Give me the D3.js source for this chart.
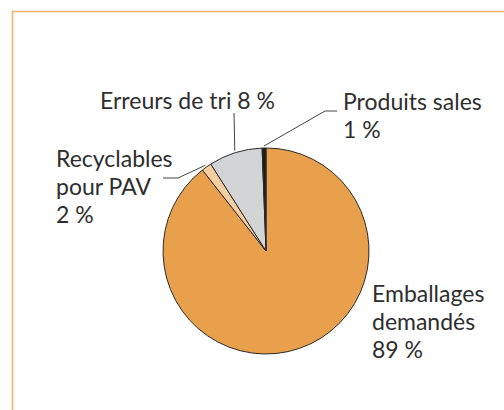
<!DOCTYPE html>
<html>
<head>
<meta charset="utf-8">
<script src="https://cdn.jsdelivr.net/npm/d3@7"></script>
<style>
  body { margin: 0; background: #fff; }
  svg text { font-family: Lato, "Open Sans", sans-serif; font-size: 23px; fill: #2e2e2e; }
</style>
</head>
<body>
<div id="chart"></div>
<script>
'use strict';

// slice order, clockwise from 12 o'clock
var categories = [ 'Emballages demandés', 'Recyclables pour PAV', 'Erreurs de tri', 'Produits sales' ];
var values = [ 89.4, 1.6, 8.4, 0.6 ];
var valueLabels = [ '89 %', '2 %', '8 %', '1 %' ];
var colors = [ '#e8a04d', '#f5cfa0', '#d3d4d6', '#1c1c1c' ];

var width = 504,
    height = 410,
    cx = 266,
    cy = 251,
    radius = 103;

var svg = d3.select( '#chart' )
  .append( 'svg' )
    .attr( 'width', width )
    .attr( 'height', height );

// orange frame (open to the right and bottom)
svg.append( 'path' )
  .attr( 'd', 'M12.5,' + height + 'V11.5H' + width )
  .attr( 'fill', 'none' )
  .attr( 'stroke', '#f5b36b' )
  .attr( 'stroke-width', 1.6 );

var pie = d3.pie()
  .sort( null )
  .value( function( d ) { return d; } );

var arcs = pie( values );

var arc = d3.arc()
  .innerRadius( 0 )
  .outerRadius( radius );

var g = svg.append( 'g' )
  .attr( 'transform', 'translate(' + cx + ',' + cy + ')' );

g.selectAll( 'path.slice' )
  .data( arcs )
  .enter()
  .append( 'path' )
    .attr( 'class', 'slice' )
    .attr( 'd', arc )
    .attr( 'fill', function( d, i ) { return colors[i]; } )
    .attr( 'stroke', '#2a2a2a' )
    .attr( 'stroke-width', 1 )
    .attr( 'stroke-linejoin', 'round' );

// point on the rim, middle of slice
function rimPoint( d, r ) {
  var a = ( d.startAngle + d.endAngle ) / 2;
  return [ cx + r * Math.sin( a ), cy - r * Math.cos( a ) ];
}

// labels: lines of text, anchor x, first baseline, leader elbow points
var labels = [
  { idx: 0, lines: [ 'Emballages', 'demandés', valueLabels[0] ], x: 372, y: 302, leader: null },
  { idx: 1, lines: [ 'Recyclables', 'pour PAV', valueLabels[1] ], x: 56, y: 167,
    leader: [ [ 178, 178 ], [ 163, 178 ] ] },
  { idx: 2, lines: [ 'Erreurs de tri ' + valueLabels[2] ], x: 100, y: 108.5,
    leader: [ [ 234, 113 ] ] },
  { idx: 3, lines: [ 'Produits sales', valueLabels[3] ], x: 343, y: 110,
    leader: [ [ 325, 111 ], [ 337, 111 ] ] }
];

var lineHeight = 28;

labels.forEach( function( lab ) {
  if ( lab.leader ) {
    var pts = [ rimPoint( arcs[lab.idx], radius + 2 ) ].concat( lab.leader );
    svg.append( 'path' )
      .attr( 'd', d3.line()( pts ) )
      .attr( 'fill', 'none' )
      .attr( 'stroke', '#444' )
      .attr( 'stroke-width', 1 );
  }
  var t = svg.append( 'text' )
    .attr( 'x', lab.x )
    .attr( 'y', lab.y );
  lab.lines.forEach( function( s, k ) {
    t.append( 'tspan' )
      .attr( 'x', lab.x )
      .attr( 'dy', k === 0 ? 0 : lineHeight )
      .text( s );
  } );
} );
</script>
</body>
</html>
